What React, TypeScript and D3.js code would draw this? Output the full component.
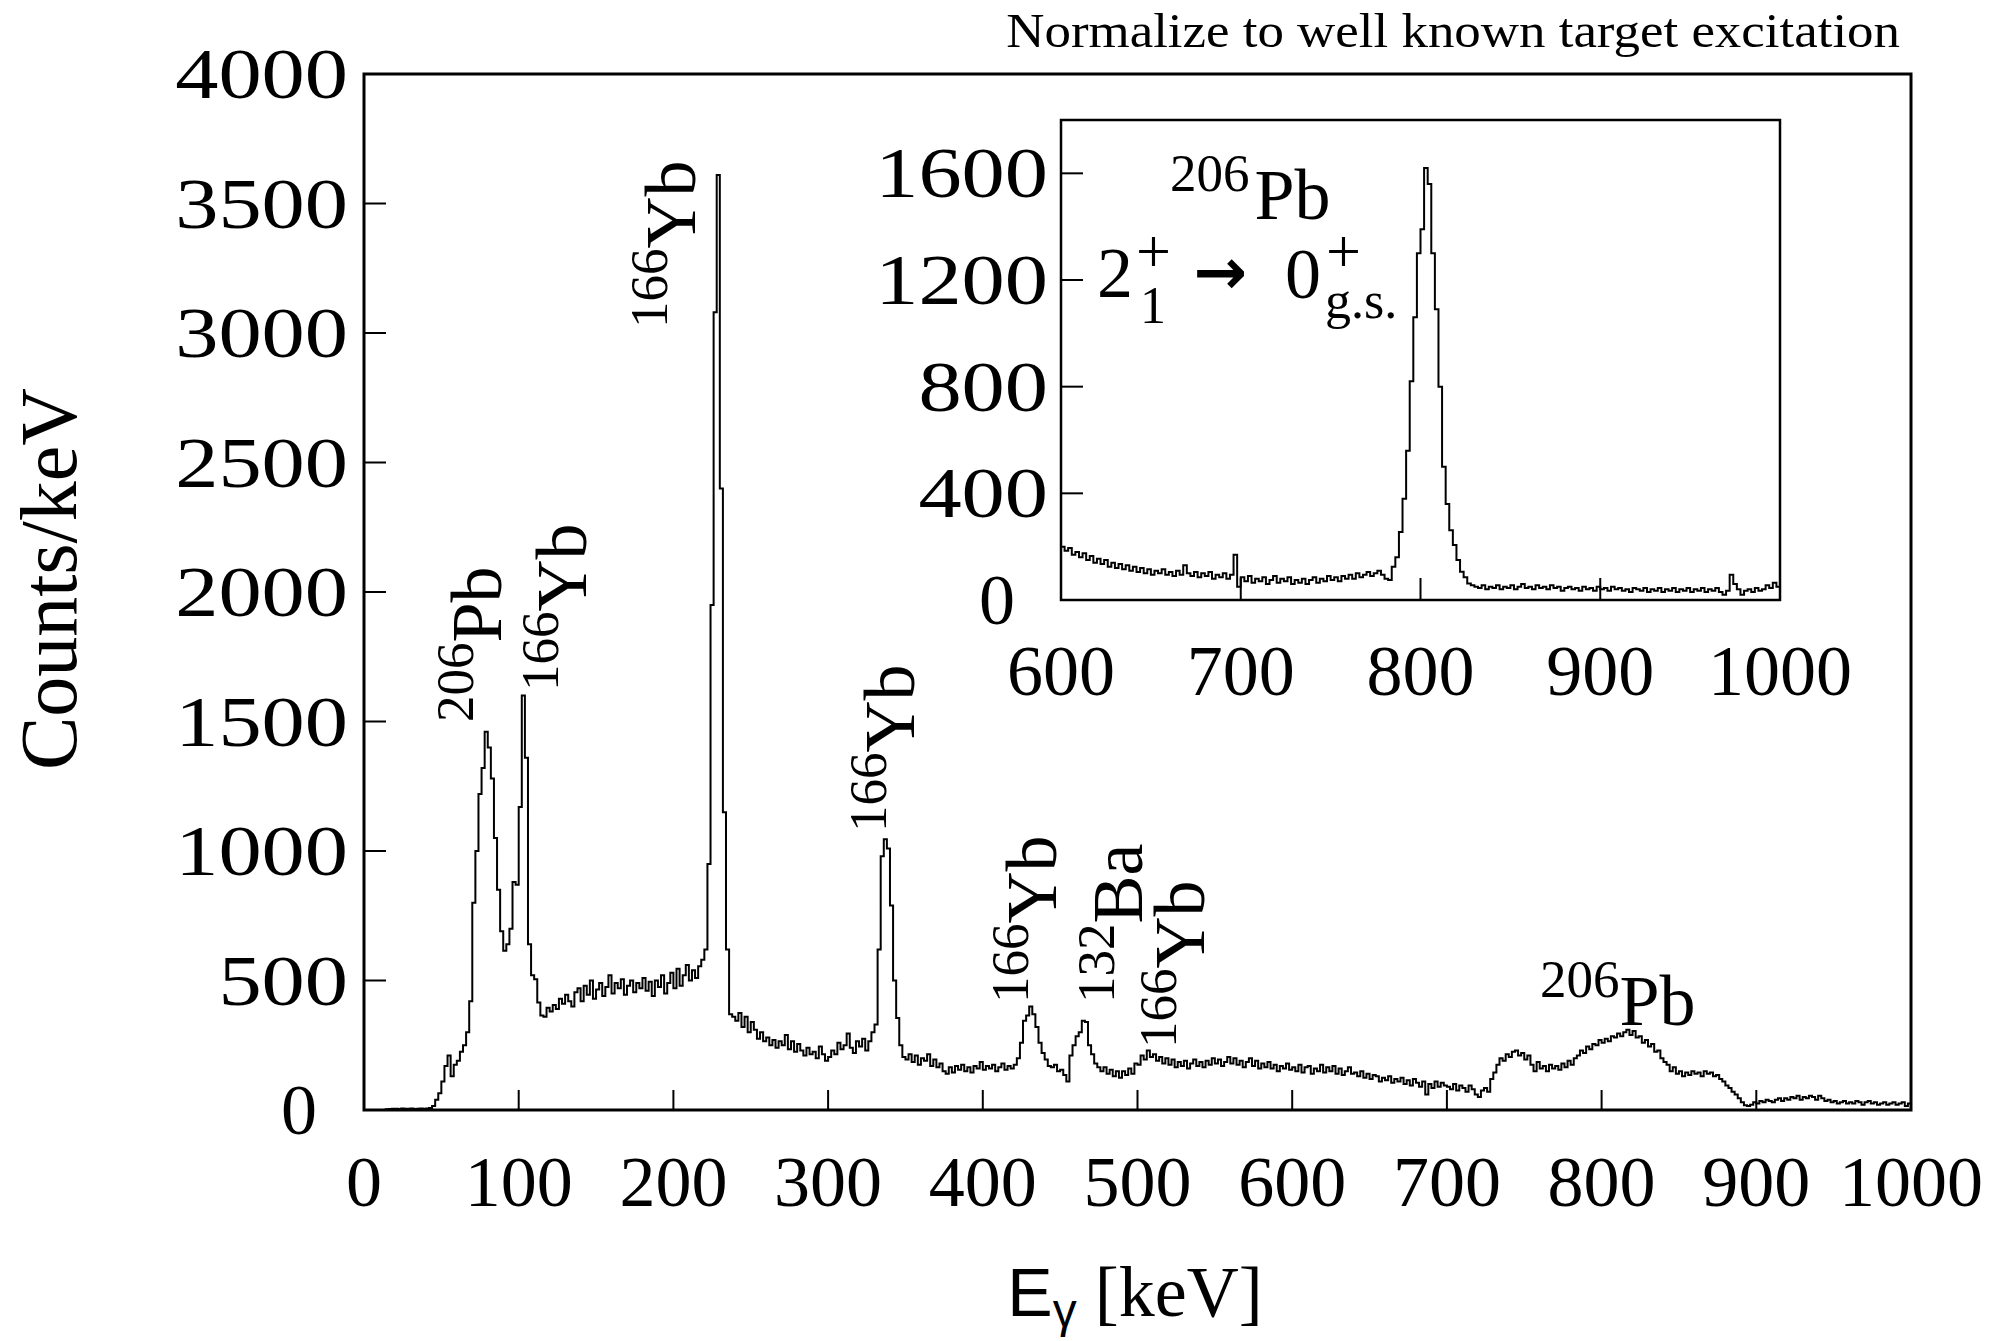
import React from 'react';
import * as d3 from 'd3';

// ---------- DATA ----------
// Main spectrum: 2 keV bins starting at 0 keV (counts/keV)
const MAIN_START = 0;
const MAIN_BIN = 2;
const mainCounts = [
  0, 0, 0, 0, 0, 0, 0, 3, 4, 5,
  5, 4, 6, 5, 5, 6, 4, 5, 6, 5,
  6, 8, 15, 40, 65, 110, 170, 210, 130, 175,
  190, 225, 250, 300, 420, 800, 1000, 1220, 1320, 1460,
  1400, 1280, 1050, 850, 690, 615, 640, 700, 880, 870,
  1170, 1600, 1360, 640, 520, 505, 415, 365, 360, 395,
  380, 405, 390, 430, 410, 445, 420, 400, 455, 470,
  420, 480, 445, 500, 430, 465, 490, 440, 475, 520,
  450, 490, 470, 505, 445, 480, 500, 455, 490, 470,
  510, 460, 495, 440, 500, 475, 520, 450, 490, 530,
  470, 545, 480, 520, 560, 500, 540, 510, 555, 580,
  620, 950, 1950, 3080, 3610, 2400, 1150, 620, 370, 360,
  345, 375, 320, 360, 300, 340, 310, 275, 300, 265,
  280, 250, 270, 240, 265, 250, 290, 235, 265, 225,
  255, 230, 210, 240, 215, 225, 200, 245, 215, 190,
  205, 230, 215, 260, 235, 250, 295, 240, 220, 265,
  245, 275, 230, 265, 300, 330, 620, 980, 1045, 1010,
  790, 500, 355, 250, 205, 195, 215, 185, 210, 175,
  200, 190, 215, 170, 195, 165, 180, 150, 140, 165,
  145, 170, 155, 175, 150, 165, 145, 170, 160, 185,
  155, 170, 160, 175, 150, 165, 180, 155, 170, 160,
  175, 200, 260, 345, 365, 400, 370, 320, 260, 220,
  195, 170, 165, 175, 150, 155, 135, 110, 210, 250,
  285, 300, 345, 340, 250, 215, 180, 165, 150, 165,
  140, 155, 130, 150, 125, 150, 135, 160, 140, 180,
  175, 210, 195, 230, 205, 215, 190, 205, 180, 200,
  175, 195, 165, 185, 170, 190, 160, 180, 195, 170,
  185, 165, 190, 175, 200, 180, 195, 170, 185, 205,
  180, 200, 175, 190, 165, 185, 200, 170, 190, 160,
  180, 165, 185, 160, 175, 150, 170, 160, 180, 155,
  165, 150, 175, 145, 165, 170, 140, 160, 150, 175,
  145, 165, 150, 170, 140, 160, 135, 150, 165, 140,
  145, 130, 150, 125, 140, 120, 135, 130, 110, 125,
  115, 130, 105, 120, 110, 125, 100, 115, 95, 120,
  105, 90, 110, 60, 100, 85, 110, 90, 105, 95,
  90, 80, 100, 75, 95, 85, 70, 95, 80, 60,
  50, 75, 85, 70, 120, 145, 175, 200, 190, 215,
  205, 225, 230, 210, 220, 195, 210, 175, 150, 185,
  160, 170, 150, 175, 160, 170, 155, 180, 165, 190,
  175, 200, 210, 230, 220, 245, 235, 255, 250, 270,
  260, 275, 265, 285, 280, 295, 285, 300, 310, 290,
  305, 280, 285, 260, 270, 245, 255, 225, 230, 200,
  185, 175, 150, 165, 140, 150, 130, 145, 135, 150,
  140, 145, 130, 150, 140, 145, 130, 135, 120, 110,
  95, 85, 70, 60, 45, 30, 18, 15, 20, 30,
  25, 35, 30, 40, 35, 30, 40, 45, 35, 45,
  40, 50, 45, 55, 40, 50, 45, 55, 50, 40,
  55, 45, 35, 40, 30, 35, 25, 30, 35, 25,
  30, 25, 35, 30, 20, 30, 35, 25, 30, 20,
  25, 30, 20, 25, 30, 20, 25, 30, 15, 25,
];

// Inset spectrum: 2 keV bins starting at 600 keV
const INSET_START = 600;
const INSET_BIN = 2;
const insetCounts = [
  200, 185, 195, 170, 180, 160, 175, 150, 165, 140,
  155, 135, 150, 125, 140, 120, 135, 115, 130, 110,
  125, 105, 120, 100, 115, 95, 110, 100, 115, 95,
  105, 90, 110, 95, 130, 100, 90, 105, 85, 100,
  90, 105, 80, 95, 85, 100, 80, 95, 170, 50,
  85, 70, 90, 65, 80, 70, 85, 60, 75, 90,
  65, 80, 70, 85, 60, 75, 65, 80, 60, 75,
  85, 65, 80, 70, 90, 75, 85, 70, 90, 80,
  95, 80, 100, 85, 95, 105, 90, 100, 110, 95,
  80, 75, 125, 160, 255, 380, 560, 820, 1060, 1300,
  1390, 1620, 1560, 1300, 1090, 800, 500, 360, 262, 206,
  150, 106, 85, 62, 55, 50, 45, 55, 40, 50,
  45, 55, 40, 50, 45, 55, 40, 50, 60, 45,
  50, 40, 55, 45, 50, 40, 55, 45, 50, 35,
  45, 50, 40, 45, 35, 50, 40, 45, 35, 50,
  40, 45, 35, 50, 40, 45, 35, 40, 30, 45,
  40, 35, 45, 30, 40, 35, 45, 30, 40, 35,
  45, 30, 40, 35, 45, 30, 40, 35, 45, 30,
  40, 35, 45, 30, 20, 35, 95, 60, 40, 20,
  35, 40, 30, 45, 35, 40, 55, 45, 65, 50,
];

const mainXDomain = [0, 1000];
const mainYDomain = [0, 4000];
const mainXTicks = [0, 100, 200, 300, 400, 500, 600, 700, 800, 900, 1000];
const mainYTicks = [0, 500, 1000, 1500, 2000, 2500, 3000, 3500, 4000];
const insetXDomain = [600, 1000];
const insetYDomain = [0, 1800];
const insetXTicks = [600, 700, 800, 900, 1000];
const insetYTicks = [0, 400, 800, 1200, 1600];

const titleText = 'Normalize to well known target excitation';
const yTitle = 'Counts/keV';

const SERIF = '"Liberation Serif", "Times New Roman", serif';
const SANS = '"Liberation Sans", Arial, sans-serif';

function histPoints(start: number, bin: number, counts: number[]): [number, number][] {
  const pts: [number, number][] = counts.map((c, i) => [start + i * bin, c]);
  pts.push([start + counts.length * bin, counts[counts.length - 1]]);
  return pts;
}

function RotLabel({ x, y, mass, el }: { x: number; y: number; mass: string; el: string }) {
  return (
    <text transform={`translate(${x},${y}) rotate(-90)`} fontFamily={SERIF} fill="#000">
      <tspan fontSize={53} dy={-28}>{mass}</tspan>
      <tspan fontSize={72} dy={28}>{el}</tspan>
    </text>
  );
}

function YLabel({ x, y, t }: { x: number; y: number; t: number }) {
  const sx = t === 0 ? 1 : 1.2;
  return (
    <text transform={`translate(${x},${y}) scale(${sx},1)`} textAnchor="end" fontFamily={SERIF} fontSize={72}>{t}</text>
  );
}

export default function App() {
  const W = 2007, H = 1341;
  const M = { left: 364, right: 1911, top: 74, bottom: 1110 };
  const I = { left: 1061, right: 1780, top: 120, bottom: 600 };

  const x = d3.scaleLinear().domain(mainXDomain).range([M.left, M.right]);
  const y = d3.scaleLinear().domain(mainYDomain).range([M.bottom, M.top]);
  const xi = d3.scaleLinear().domain(insetXDomain).range([I.left, I.right]);
  const yi = d3.scaleLinear().domain(insetYDomain).range([I.bottom, I.top]);

  const mainLine = d3.line<[number, number]>()
    .x(d => x(d[0])).y(d => y(d[1])).curve(d3.curveStepAfter);
  const insetLine = d3.line<[number, number]>()
    .x(d => xi(d[0])).y(d => yi(d[1])).curve(d3.curveStepAfter);

  const mainPath = mainLine(histPoints(MAIN_START, MAIN_BIN, mainCounts)) || '';
  const insetPath = insetLine(histPoints(INSET_START, INSET_BIN, insetCounts)) || '';

  // rotated peak labels: [baseline x, start y, mass, element]
  const rotLabels: [number, number, string, string][] = [
    [501, 722, '206', 'Pb'],
    [586, 691, '166', 'Yb'],
    [695, 328, '166', 'Yb'],
    [914, 832, '166', 'Yb'],
    [1056, 1003, '166', 'Yb'],
    [1142, 1003, '132', 'Ba'],
    [1204, 1048, '166', 'Yb'],
  ];

  return (
    <svg width={W} height={H} style={{ position: 'absolute', left: 0, top: 0, background: '#fff' }}
      xmlns="http://www.w3.org/2000/svg">
      <rect x={0} y={0} width={W} height={H} fill="#fff" />
      <defs>
        <clipPath id="mainClip"><rect x={M.left} y={M.top} width={M.right - M.left} height={M.bottom - M.top} /></clipPath>
        <clipPath id="insetClip"><rect x={I.left} y={I.top} width={I.right - I.left} height={I.bottom - I.top} /></clipPath>
      </defs>

      {/* title */}
      <text transform="translate(1900,47) scale(1.08,1)" textAnchor="end" fontFamily={SERIF} fontSize={49}>{titleText}</text>

      {/* main histogram */}
      <path d={mainPath} fill="none" stroke="#000" strokeWidth={2} clipPath="url(#mainClip)" />

      {/* main ticks */}
      {mainXTicks.map(t => (
        <line key={'mx' + t} x1={x(t)} x2={x(t)} y1={M.bottom} y2={M.bottom - 20} stroke="#000" strokeWidth={2} />
      ))}
      {mainYTicks.map(t => (
        <line key={'my' + t} x1={M.left} x2={M.left + 22} y1={y(t)} y2={y(t)} stroke="#000" strokeWidth={2} />
      ))}
      <rect x={M.left} y={M.top} width={M.right - M.left} height={M.bottom - M.top} fill="none" stroke="#000" strokeWidth={3} />

      {/* main tick labels */}
      {mainXTicks.map(t => (
        <text key={'mxl' + t} x={x(t)} y={1206} textAnchor="middle" fontFamily={SERIF} fontSize={72}>{t}</text>
      ))}
      {mainYTicks.map(t => (
        <YLabel key={'myl' + t} x={t === 0 ? 317 : 348} y={y(t) + 24} t={t} />
      ))}

      {/* axis titles */}
      <text transform={`translate(76,579) rotate(-90)`} textAnchor="middle" fontFamily={SERIF} fontSize={80}>{yTitle}</text>
      <text x={1135} y={1316} textAnchor="middle" fontSize={68}>
        <tspan fontFamily={SANS}>E</tspan>
        <tspan fontFamily={SANS} fontSize={48} dy={11}>γ</tspan>
        <tspan fontFamily={SERIF} fontSize={72} dy={-11}> [keV]</tspan>
      </text>

      {/* peak labels */}
      {rotLabels.map(([lx, ly, m, e], i) => (
        <RotLabel key={'rl' + i} x={lx} y={ly} mass={m} el={e} />
      ))}
      <text x={1540} y={1025} fontFamily={SERIF}>
        <tspan fontSize={53} dy={-28}>206</tspan>
        <tspan fontSize={72} dy={28}>Pb</tspan>
      </text>

      {/* inset */}
      <rect x={I.left} y={I.top} width={I.right - I.left} height={I.bottom - I.top} fill="#fff" />
      <path d={insetPath} fill="none" stroke="#000" strokeWidth={2} clipPath="url(#insetClip)" />
      {insetXTicks.map(t => (
        <line key={'ix' + t} x1={xi(t)} x2={xi(t)} y1={I.bottom} y2={I.bottom - 22} stroke="#000" strokeWidth={2} />
      ))}
      {insetYTicks.map(t => (
        <line key={'iy' + t} x1={I.left} x2={I.left + 22} y1={yi(t)} y2={yi(t)} stroke="#000" strokeWidth={2} />
      ))}
      <rect x={I.left} y={I.top} width={I.right - I.left} height={I.bottom - I.top} fill="none" stroke="#000" strokeWidth={2.5} />
      {insetXTicks.map(t => (
        <text key={'ixl' + t} x={xi(t)} y={695} textAnchor="middle" fontFamily={SERIF} fontSize={72}>{t}</text>
      ))}
      {insetYTicks.map(t => (
        <YLabel key={'iyl' + t} x={t === 0 ? 1015 : 1048} y={yi(t) + 24} t={t} />
      ))}

      {/* inset annotation */}
      <text x={1170} y={219} fontFamily={SERIF}>
        <tspan fontSize={53} dy={-28}>206</tspan>
        <tspan fontSize={72} dy={28} dx={5}>Pb</tspan>
      </text>
      <text x={1097} y={297} fontFamily={SERIF} fontSize={72}>2</text>
      <text x={1136} y={272} fontFamily={SERIF} fontSize={62}>+</text>
      <text x={1140} y={323} fontFamily={SERIF} fontSize={52}>1</text>
      <text x={1220} y={294} textAnchor="middle" fontFamily='"DejaVu Sans", sans-serif' fontSize={64} fontWeight="bold">→</text>
      <text x={1285} y={298} fontFamily={SERIF} fontSize={72}>0</text>
      <text x={1326} y={272} fontFamily={SERIF} fontSize={62}>+</text>
      <text x={1325} y={318} fontFamily={SERIF} fontSize={52}>g.s.</text>
    </svg>
  );
}
